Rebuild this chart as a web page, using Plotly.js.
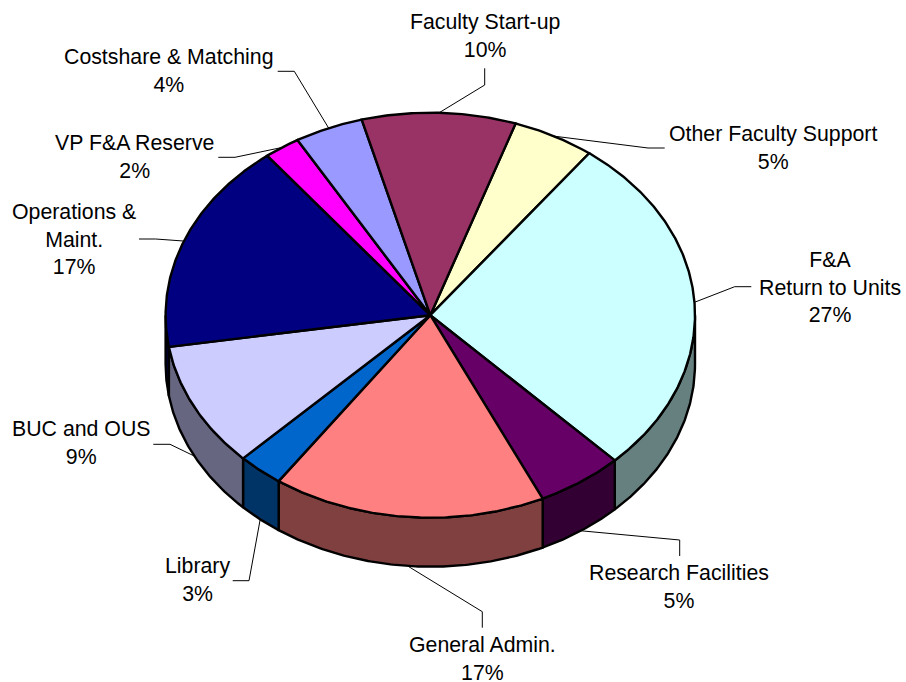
<!DOCTYPE html>
<html>
<head>
<meta charset="utf-8">
<script src="https://cdn.plot.ly/plotly-3.0.1.min.js"></script>
<style>html,body{margin:0;padding:0;background:#fff}</style>
</head>
<body>
<div id="chart" style="width:906px;height:682px"></div>
<script>
// Data, clockwise from the first slice
const categories = ['Other Faculty Support','F&A<br>Return to Units','Research Facilities','General Admin.','Library','BUC and OUS','Operations &<br>Maint.','VP F&A Reserve','Costshare & Matching','Faculty Start-up'];
const shares = [5.03,27.5,5.3,16.7,2.8,10.0,16.95,2.2,4.2,9.4];
const percentLabels = ['5%','27%','5%','17%','3%','9%','17%','2%','4%','10%'];

// Styles
const topColors = ['#FFFFCC','#CCFFFF','#660066','#FF8080','#0066CC','#CCCCFF','#000080','#FF00FF','#9999FF','#993366'];
const sideColors = ['#808066','#668080','#330033','#804040','#003366','#666680','#000040','#800080','#4D4D80','#4D1A33'];

// Layout of the pie and labels, in page units
const pie = {cx:430.3, cy:315.2, rx:264.7, ry:202.5, depth:49, startDeg:18.8};
const labelX = [772.7,830,679.3,482.3,197.8,80.8,73.7,134,169.3,484.7];
const labelY = [148,287,587,659,580,442.5,239,157,71,36];
const elbowX = [648,734.7,679.7,482.3,249,170,155.7,235,294.3,484.7];
const elbowY = [148,286.7,540,611.7,580.7,444.3,239,157.3,71.3,85];
const endX = [664.7,751.3,679.7,482.3,232.7,153.3,139,218.3,277.7,484.7];
const endY = [148,286.7,556,627.7,580.7,444.3,239,157.3,71.3,68.3];

const rad = d => d*Math.PI/180;
const px = d => pie.cx + pie.rx*Math.sin(rad(d));
const py = (d,z) => pie.cy - pie.ry*Math.cos(rad(d)) + (z||0);
function arc(a,b,z){ const n=Math.max(2,Math.ceil(Math.abs(b-a)*2)); const xs=[],ys=[];
  for(let i=0;i<=n;i++){const d=a+(b-a)*i/n; xs.push(px(d)); ys.push(py(d,z));}
  return [xs,ys]; }

const total = shares.reduce((s,v)=>s+v,0);
let cur = pie.startDeg;
const spans = shares.map(v=>{const a=cur; cur+=v/total*360; return [a,cur];});

const walls=[], tops=[], leaders=[], annotations=[];
spans.forEach(([a,b],i)=>{
  const name = categories[i].replace('<br>',' ');
  const hover = name+': '+percentLabels[i];
  const lo=Math.max(a,90), hi=Math.min(b,270);
  if(hi>lo){
    const [x1,y1]=arc(lo,hi,0), [x2,y2]=arc(hi,lo,pie.depth);
    walls.push({type:'scatter',mode:'lines',x:[...x1,...x2,x1[0]],y:[...y1,...y2,y1[0]],fill:'toself',fillcolor:sideColors[i],
      line:{color:'#000',width:2.4,join:'round'},hoverinfo:'text',text:hover,showlegend:false});
  }
  const [xa,ya]=arc(a,b,0);
  tops.push({type:'scatter',mode:'lines',x:[pie.cx,...xa,pie.cx],y:[pie.cy,...ya,pie.cy],fill:'toself',fillcolor:topColors[i],
    line:{color:'#000',width:2.4,join:'round'},hoverinfo:'text',text:hover,showlegend:false});
  const mid=(a+b)/2, z=Math.cos(rad(mid))<0?pie.depth:0;
  leaders.push({type:'scatter',mode:'lines',x:[px(mid),elbowX[i],endX[i]],y:[py(mid,z),elbowY[i],endY[i]],
    line:{color:'#000',width:1},hoverinfo:'skip',showlegend:false});
  annotations.push({x:labelX[i],y:labelY[i],xref:'x',yref:'y',xanchor:'center',yanchor:'middle',showarrow:false,align:'center',
    text:categories[i]+'<br>'+percentLabels[i],font:{family:'"Liberation Sans",Arial,sans-serif',size:21.3,color:'#000'}});
});

Plotly.newPlot('chart',[...leaders,...walls,...tops],{
  width:906,height:682,margin:{l:0,r:0,t:0,b:0},paper_bgcolor:'#fff',plot_bgcolor:'#fff',showlegend:false,
  xaxis:{range:[0,906],visible:false,fixedrange:true},
  yaxis:{range:[682,0],visible:false,fixedrange:true},
  annotations
},{displayModeBar:false,responsive:false});
</script>
</body>
</html>
